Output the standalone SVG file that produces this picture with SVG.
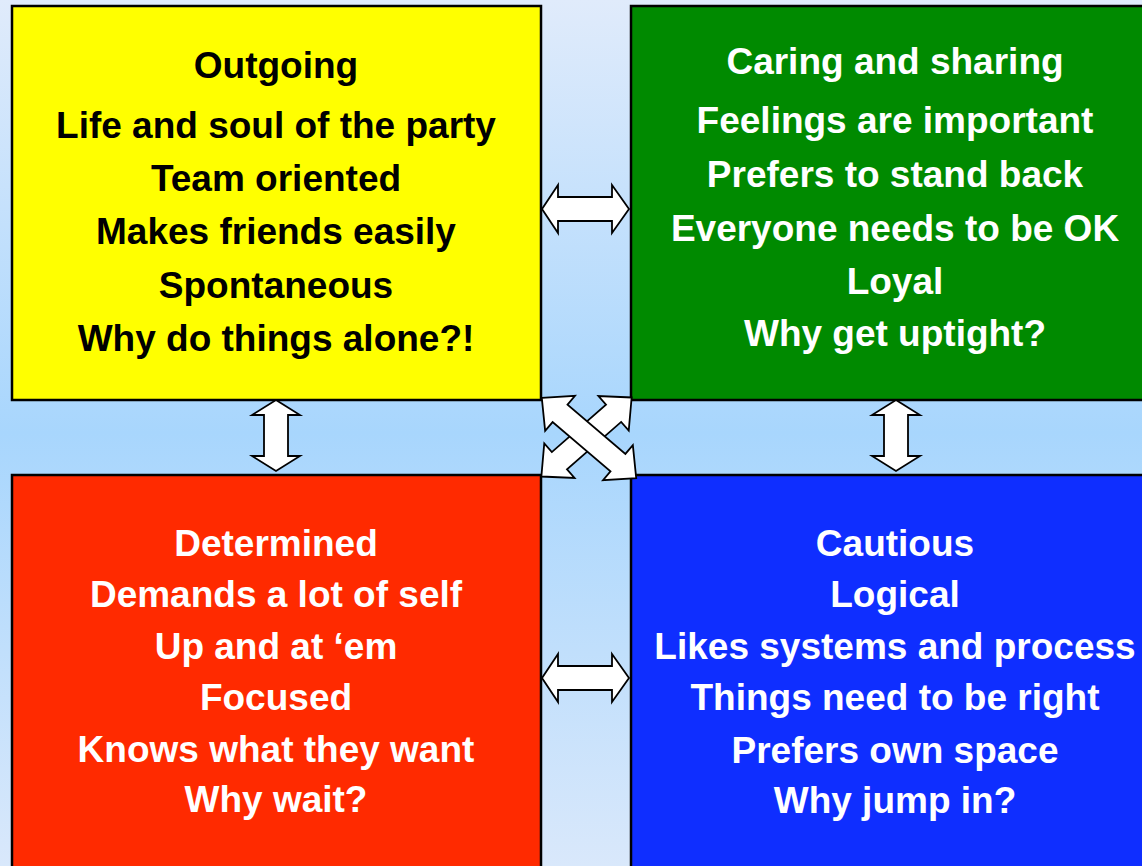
<svg xmlns="http://www.w3.org/2000/svg" width="1142" height="866" viewBox="0 0 1142 866">
<defs>
<linearGradient id="bg" x1="0" y1="0" x2="0" y2="1">
<stop offset="0" stop-color="#e0ebfb"/>
<stop offset="0.5" stop-color="#a8d6fd"/>
<stop offset="1" stop-color="#d9e8fb"/>
</linearGradient>
</defs>
<style>
.box{stroke:#000;stroke-width:2.5}
.t{font-family:"Liberation Sans",Arial,sans-serif;font-weight:bold;font-size:37px;text-anchor:middle}
.dark{fill:#000}
.light{fill:#fff}
.arr{fill:#fff;stroke:#000;stroke-width:1.8;stroke-linejoin:miter}
</style>
<rect x="0" y="0" width="1142" height="866" fill="url(#bg)"/>

<g id="node-outgoing">
<rect class="box" x="12" y="6" width="529" height="394" fill="#ffff00"/>
<text class="t dark" x="276" y="78">Outgoing</text>
<text class="t dark" x="276" y="138">Life and soul of the party</text>
<text class="t dark" x="276" y="191">Team oriented</text>
<text class="t dark" x="276" y="244">Makes friends easily</text>
<text class="t dark" x="276" y="298">Spontaneous</text>
<text class="t dark" x="276" y="351">Why do things alone?!</text>
</g>

<g id="node-caring">
<rect class="box" x="631" y="6" width="529" height="394" fill="#008a00"/>
<text class="t light" x="895" y="74">Caring and sharing</text>
<text class="t light" x="895" y="133">Feelings are important</text>
<text class="t light" x="895" y="187">Prefers to stand back</text>
<text class="t light" x="895" y="241">Everyone needs to be OK</text>
<text class="t light" x="895" y="294">Loyal</text>
<text class="t light" x="895" y="346">Why get uptight?</text>
</g>

<g id="node-determined">
<rect class="box" x="12" y="475" width="529" height="400" fill="#ff2a00"/>
<text class="t light" x="276" y="556">Determined</text>
<text class="t light" x="276" y="607">Demands a lot of self</text>
<text class="t light" x="276" y="659">Up and at ‘em</text>
<text class="t light" x="276" y="710">Focused</text>
<text class="t light" x="276" y="762">Knows what they want</text>
<text class="t light" x="276" y="812">Why wait?</text>
</g>

<g id="node-cautious">
<rect class="box" x="631" y="475" width="529" height="400" fill="#0f2eff"/>
<text class="t light" x="895" y="556">Cautious</text>
<text class="t light" x="895" y="607">Logical</text>
<text class="t light" x="895" y="659">Likes systems and process</text>
<text class="t light" x="895" y="710">Things need to be right</text>
<text class="t light" x="895" y="763">Prefers own space</text>
<text class="t light" x="895" y="813">Why jump in?</text>
</g>

<g id="connectors">
<path class="arr" d="M542,209 L558,185 L558,197 L612,197 L612,185 L629,209 L612,233 L612,221 L558,221 L558,233 Z"/>
<path class="arr" d="M542,678 L558,654 L558,666 L612,666 L612,654 L629,678 L612,702 L612,690 L558,690 L558,702 Z"/>
<path class="arr" d="M276,400 L300,415 L288,415 L288,456 L300,456 L276,471 L252,456 L264,456 L264,415 L252,415 Z"/>
<path class="arr" d="M896,400 L920,415 L908,415 L908,456 L920,456 L896,471 L872,456 L884,456 L884,415 L872,415 Z"/>
<path class="arr" transform="translate(586.5,437) rotate(-41.2)" d="M-60,0 L-36,-23 L-36,-11.5 L36,-11.5 L36,-23 L60,0 L36,23 L36,11.5 L-36,11.5 L-36,23 Z"/>
<path class="arr" transform="translate(589,438) rotate(40.4)" d="M-62,0 L-38,-23 L-38,-11.5 L38,-11.5 L38,-23 L62,0 L38,23 L38,11.5 L-38,11.5 L-38,23 Z"/>
</g>
</svg>
